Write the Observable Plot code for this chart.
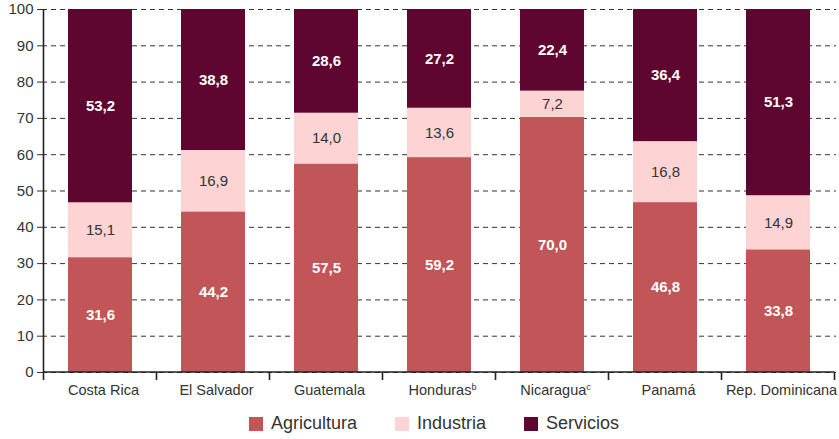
<!DOCTYPE html>
<html>
<head>
<meta charset="utf-8">
<script src="https://cdn.jsdelivr.net/npm/d3@7"></script>
<script src="https://cdn.jsdelivr.net/npm/@observablehq/plot@0.6"></script>
<style>
  body { margin: 0; background: #fff; font-family: "Liberation Sans", Arial, sans-serif; }
  #legend { display: flex; justify-content: center; gap: 38px; margin-top: 13px; padding-left: 29px; font-size: 18px; line-height: 21px; color: #333; }
  #legend .item { display: flex; align-items: center; }
  #legend .sw { width: 14px; height: 14px; margin-right: 8px; }
</style>
</head>
<body>
<div id="chart"></div>
<div id="legend"></div>
<script>
const countries = ["Costa Rica", "El Salvador", "Guatemala", "Honduras", "Nicaragua", "Panamá", "Rep. Dominicana"];
const notes = ["", "", "", "b", "c", "", ""];
const sectors = ["Agricultura", "Industria", "Servicios"];
const colors = ["#C25557", "#FDD3D4", "#5F0630"];
const labelColors = ["#ffffff", "#333333", "#ffffff"];
const labelWeights = ["bold", "normal", "bold"];
const agricultura = [31.6, 44.2, 57.5, 59.2, 70.0, 46.8, 33.8];
const industria = [15.1, 16.9, 14.0, 13.6, 7.2, 16.8, 14.9];
const servicios = [53.2, 38.8, 28.6, 27.2, 22.4, 36.4, 51.3];
const yTicks = [0, 10, 20, 30, 40, 50, 60, 70, 80, 90, 100];

const series = [agricultura, industria, servicios];
const data = [];
countries.forEach((c, i) => sectors.forEach((s, j) => data.push({country: c, sector: s, value: series[j][i]})));
const fmt = v => v.toFixed(1).replace(".", ",");

const stackOpts = {x: "country", y: "value", z: "sector", order: sectors, offset: "normalize"};

const plot = Plot.plot({
  width: 839,
  height: 400,
  marginLeft: 42,
  marginRight: 3,
  marginTop: 9,
  marginBottom: 28,
  style: {fontFamily: "Liberation Sans, Arial, sans-serif", fontSize: "15px", color: "#333", background: "#fff"},
  x: {domain: countries, paddingInner: 0.43, paddingOuter: 0.215, label: null, axis: null},
  y: {domain: [0, 1], label: null, axis: null},
  color: {domain: sectors, range: colors},
  marks: [
    Plot.ruleY(yTicks.map(d => d / 100), {stroke: "#333", strokeWidth: 1, strokeDasharray: "5,4"}),
    Plot.barY(data, Plot.stackY({...stackOpts, fill: "sector"})),
    ...sectors.map((s, j) => Plot.text(data, Plot.stackY({
      ...stackOpts, text: d => d.sector === s ? fmt(d.value) : "", fill: labelColors[j], fontWeight: labelWeights[j], fontSize: 15
    }))),
    Plot.axisY({ticks: yTicks.map(d => d / 100), tickFormat: d => Math.round(d * 100), tickSize: 5, tickPadding: 4, fontSize: 15, label: null}),
    Plot.axisX({tickSize: 0, tickPadding: 12, fontSize: 14.5, dx: 3, label: null})
  ]
});
document.getElementById("chart").appendChild(plot);

// axis lines and category boundary ticks, placed from the library's scales
const xs = plot.scale("x");
const ys = plot.scale("y");
const svg = d3.select(plot);
const y0 = ys.apply(0), y1 = ys.apply(1);
const gap = xs.step - xs.bandwidth;
const bounds = countries.map(c => xs.apply(c) - gap / 2);
bounds.push(xs.apply(countries[countries.length - 1]) + xs.bandwidth + gap / 2);
const g = svg.append("g").attr("stroke", "#222").attr("stroke-width", 1.6);
g.append("line").attr("x1", bounds[0]).attr("x2", bounds[0]).attr("y1", y1).attr("y2", y0);
g.append("line").attr("x1", bounds[0]).attr("x2", bounds[bounds.length - 1]).attr("y1", y0).attr("y2", y0);
bounds.forEach(b => g.append("line").attr("x1", b).attr("x2", b).attr("y1", y0).attr("y2", y0 + 8));

// superscript notes on tick labels
svg.selectAll("text").each(function() {
  const t = this.textContent;
  const i = countries.indexOf(t);
  if (i >= 0 && notes[i]) {
    const el = d3.select(this);
    el.text(t);
    el.append("tspan").attr("font-size", "9px").attr("dy", "-5").text(notes[i]);
  }
});

const legend = d3.select("#legend");
sectors.forEach((s, j) => {
  const it = legend.append("div").attr("class", "item");
  it.append("div").attr("class", "sw").style("background", colors[j]);
  it.append("span").text(s);
});
</script>
</body>
</html>
